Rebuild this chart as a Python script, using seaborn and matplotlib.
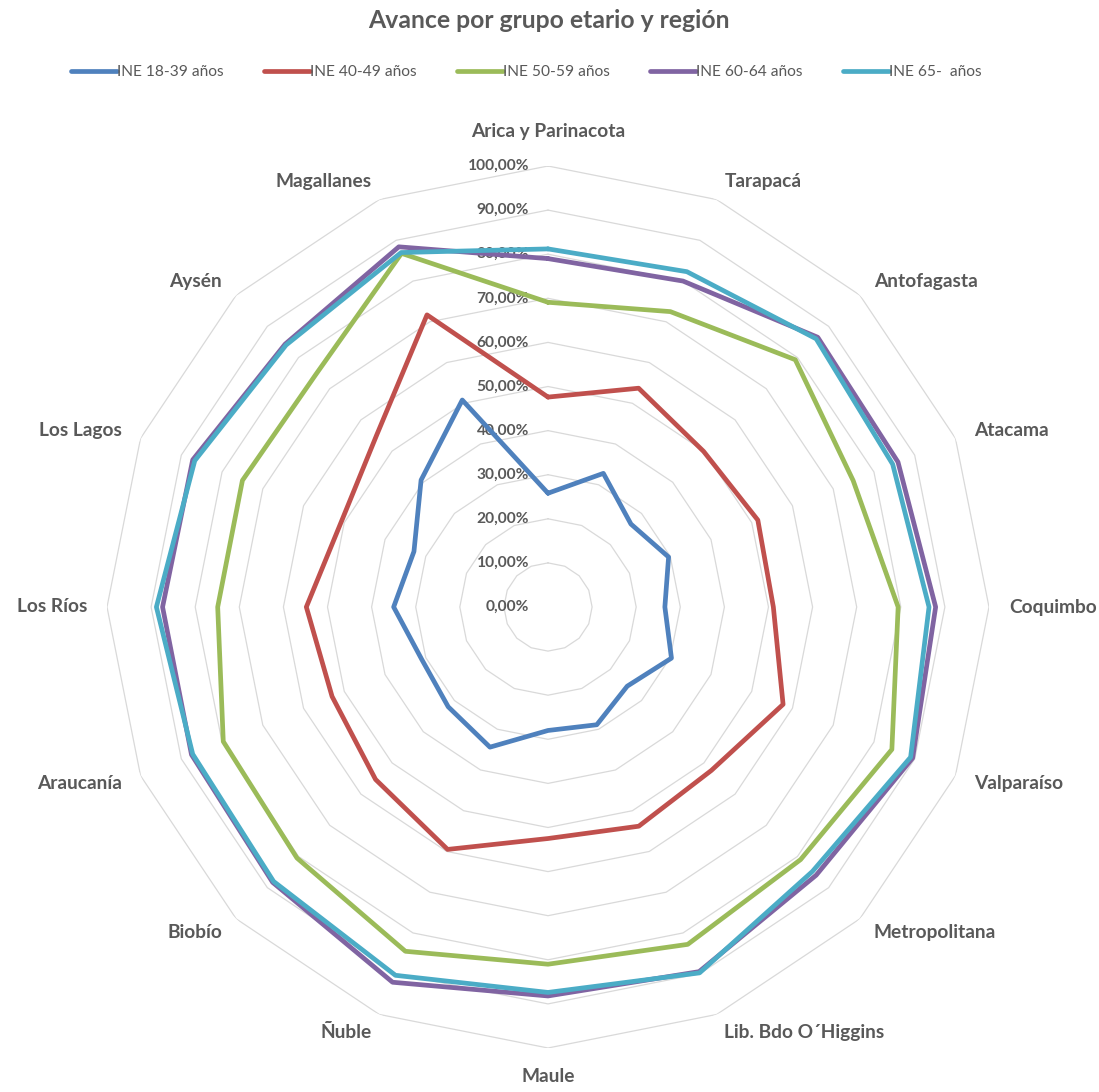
import numpy as np
import pandas as pd
import matplotlib
matplotlib.use("Agg")
import matplotlib.pyplot as plt
import matplotlib.transforms as mtransforms
from matplotlib.lines import Line2D
import seaborn as sns

# ---------------- data ----------------
regions = ["Arica y Parinacota", "Tarapacá", "Antofagasta", "Atacama", "Coquimbo",
           "Valparaíso", "Metropolitana", "Lib. Bdo O´Higgins", "Maule", "Ñuble",
           "Biobío", "Araucanía", "Los Ríos", "Los Lagos", "Aysén", "Magallanes"]

series_names = ["INE 18-39 años", "INE 40-49 años", "INE 50-59 años",
                "INE 60-64 años", "INE 65-  años"]

ine_18_39 = [25.8, 32.8, 26.6, 29.6, 26.5, 30.3, 25.4, 28.9, 28.0, 34.4, 32.0, 31.0, 35.0, 32.9, 40.7, 50.8]
ine_40_49 = [47.6, 53.7, 49.9, 51.5, 51.1, 57.7, 52.4, 53.8, 52.5, 59.5, 55.3, 53.0, 54.8, 50.7, 55.0, 71.7]
ine_50_59 = [69.1, 72.5, 79.3, 74.9, 79.4, 84.4, 81.0, 82.8, 81.0, 84.5, 80.5, 79.7, 74.9, 75.0, 74.5, 86.8]
ine_60_64 = [79.0, 80.0, 86.5, 85.9, 87.9, 89.5, 86.0, 89.5, 88.2, 92.1, 88.3, 87.5, 87.4, 87.2, 84.3, 88.4]
ine_65 = [81.2, 82.3, 86.0, 84.6, 86.4, 89.0, 84.8, 89.8, 87.4, 90.4, 88.0, 87.2, 88.8, 86.7, 84.0, 87.0]

r_ticks = [0, 10, 20, 30, 40, 50, 60, 70, 80, 90, 100]

colors = ["#4F81BD", "#C0504D", "#9BBB59", "#8064A2", "#4BACC6"]
text_color = "#595959"
grid_color = "#D9D9D9"

# ---------------- build long table ----------------
n = len(regions)
theta = np.linspace(0, 2 * np.pi, n, endpoint=False)
all_series = [ine_18_39, ine_40_49, ine_50_59, ine_60_64, ine_65]
rows = []
for name, vals in zip(series_names, all_series):
    for i in range(n + 1):  # close the polygon
        rows.append({"serie": name, "theta": theta[i] if i < n else 2 * np.pi,
                     "valor": vals[i % n]})
df = pd.DataFrame(rows)

# ---------------- figure ----------------
sns.set_theme(style="white")
plt.rcParams["font.family"] = ["Lato", "DejaVu Sans"]

fig = plt.figure(figsize=(10.99, 10.92), dpi=100)
cx, cy, R = 548, 607, 441
W, H = 1099, 1092
ax = fig.add_axes([(cx - R) / W, (H - cy - R) / H, 2 * R / W, 2 * R / H], projection="polar")
ax.set_theta_zero_location("N")
ax.set_theta_direction(-1)
ax.set_ylim(0, 100)
ax.grid(False)
ax.set_xticks([])
ax.set_yticks([])
ax.spines["polar"].set_visible(False)
ax.set_facecolor("white")

# polygon grid
ring_theta = np.append(theta, 2 * np.pi)
for lvl in r_ticks[1:]:
    ax.plot(ring_theta, [lvl] * (n + 1), color=grid_color, lw=0.9, zorder=1)

sns.lineplot(data=df, x="theta", y="valor", hue="serie", hue_order=series_names,
             palette=colors, sort=False, estimator=None, linewidth=3.4,
             legend=False, ax=ax, zorder=3)
ax.set_xlabel("")
ax.set_ylabel("")
ax.set_ylim(0, 100)

# radial tick labels
off = mtransforms.offset_copy(ax.transData, fig=fig, x=-19, y=0, units="dots")
for lvl in r_ticks:
    ax.text(0, lvl, f"{lvl:.2f}".replace(".", ",") + "%", transform=off,
            ha="right", va="center", fontsize=11.2, fontweight="bold",
            color=text_color, zorder=2)

# category labels
for t, lab in zip(theta, regions):
    s, c = np.sin(t), np.cos(t)
    ha = "left" if s > 0.01 else ("right" if s < -0.01 else "center")
    va = "bottom" if c > 0.99 else ("top" if c < -0.99 else "center")
    r_lab = 106.0 if c > 0.99 else 104.5
    ax.text(t, r_lab, lab, ha=ha, va=va, fontsize=13.8, fontweight="bold",
            color=text_color, clip_on=False)

# title
fig.text(549 / W, 1 - 20 / H, "Avance por grupo etario y región", ha="center", va="center",
         fontsize=17.8, fontweight="bold", color=text_color)

# legend
handles = [Line2D([0], [0], color=c, lw=3.4) for c in colors]
leg = fig.legend(handles, series_names, loc="center", bbox_to_anchor=(526 / W, 1 - 72 / H),
                 ncol=5, frameon=False, fontsize=11.2, handlelength=2.95, handletextpad=0.0,
                 columnspacing=2.6)
for txt in leg.get_texts():
    txt.set_color(text_color)

fig.savefig("out.png", dpi=100, facecolor="white")
